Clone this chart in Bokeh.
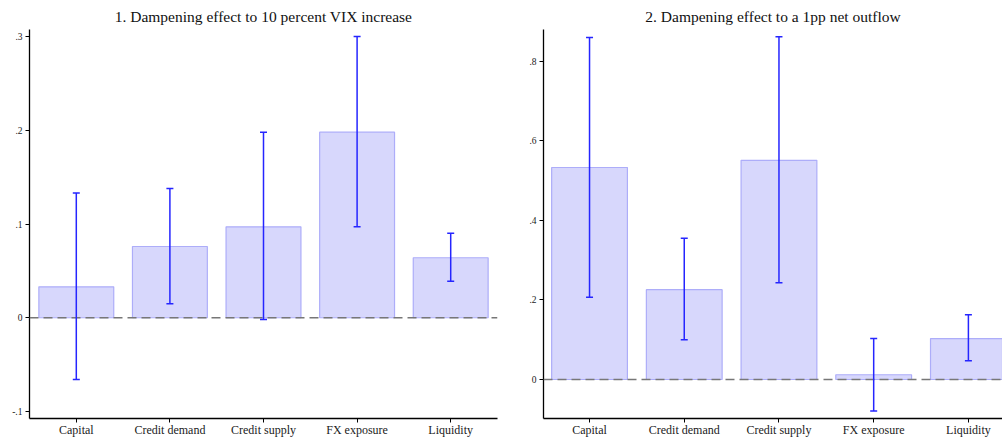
from bokeh.plotting import figure
from bokeh.models import ColumnDataSource, Range1d, FixedTicker, Span, Whisker, TeeHead
from bokeh.layouts import row
from bokeh.embed import file_html
from bokeh.resources import INLINE

categories = ["Capital", "Credit demand", "Credit supply", "FX exposure", "Liquidity"]

# Panel 1: dampening effect to 10 percent VIX increase
vix_est = [0.033, 0.076, 0.097, 0.198, 0.064]
vix_lo = [-0.066, 0.015, -0.002, 0.097, 0.039]
vix_hi = [0.133, 0.138, 0.198, 0.300, 0.090]
vix_ticks = [-0.1, 0.0, 0.1, 0.2, 0.3]
vix_tick_labels = ["-.1", "0", ".1", ".2", ".3"]

# Panel 2: dampening effect to a 1pp net outflow
out_est = [0.533, 0.226, 0.551, 0.012, 0.103]
out_lo = [0.207, 0.100, 0.243, -0.079, 0.047]
out_hi = [0.860, 0.355, 0.862, 0.103, 0.163]
out_ticks = [0.0, 0.2, 0.4, 0.6, 0.8]
out_tick_labels = ["0", ".2", ".4", ".6", ".8"]

titles = ["1. Dampening effect to 10 percent VIX increase",
          "2. Dampening effect to a 1pp net outflow"]

FONT = "Liberation Serif"
BAR_FILL = "#d7d7fc"
BAR_LINE = "#adadf9"
ERR = "#2525ff"


def make_panel(title, est, lo, hi, ticks, tick_labels, width, xr, yr,
               border_left, border_right, title_offset):
    xs = list(range(len(categories)))
    src = ColumnDataSource(dict(x=xs, est=est, lo=lo, hi=hi))
    p = figure(width=width, height=439, x_range=Range1d(*xr), y_range=Range1d(*yr),
               output_backend="svg", toolbar_location=None, title=title,
               min_border_left=border_left, min_border_right=border_right,
               min_border_top=0, min_border_bottom=0)
    p.title.text_font = FONT
    p.title.text_font_size = "15.5px"
    p.title.text_font_style = "normal"
    p.title.text_color = "#111111"
    p.title.align = "center"
    p.title.offset = title_offset
    p.outline_line_color = None
    p.xgrid.visible = False
    p.ygrid.visible = False
    p.background_fill_color = "white"
    p.border_fill_color = "white"

    p.vbar(x="x", top="est", bottom=0, width=0.8, source=src,
           fill_color=BAR_FILL, line_color=BAR_LINE, line_width=1.2)

    p.add_layout(Span(location=0, dimension="width", line_color="#777777",
                      line_dash="9 5", line_width=1.5, level="annotation"))

    w = Whisker(base="x", upper="hi", lower="lo", source=src,
                line_color=ERR, line_width=1.5, level="overlay",
                upper_head=TeeHead(size=7, line_color=ERR, line_width=1.5),
                lower_head=TeeHead(size=7, line_color=ERR, line_width=1.5))
    p.add_layout(w)

    p.xaxis.ticker = FixedTicker(ticks=xs)
    p.xaxis.major_label_overrides = {i: c for i, c in enumerate(categories)}
    p.xaxis.minor_tick_line_color = None
    p.xaxis.major_tick_in = 0
    p.xaxis.major_tick_out = 4
    p.xaxis.major_label_standoff = 0
    p.xaxis.major_label_text_font = FONT
    p.xaxis.major_label_text_font_size = "12px"
    p.xaxis.major_label_text_color = "#1a1a1a"
    p.xaxis.axis_line_color = "black"
    p.xaxis.axis_line_width = 1.3

    p.yaxis.ticker = FixedTicker(ticks=ticks)
    p.yaxis.major_label_overrides = {t: l for t, l in zip(ticks, tick_labels)}
    p.yaxis.minor_tick_line_color = None
    p.yaxis.major_tick_in = 0
    p.yaxis.major_tick_out = 4
    p.yaxis.major_label_standoff = 3
    p.yaxis.major_label_orientation = "horizontal"
    p.yaxis.major_label_text_font = FONT
    p.yaxis.major_label_text_font_size = "9.5px"
    p.yaxis.major_label_text_color = "#1a1a1a"
    p.yaxis.axis_line_color = "black"
    p.yaxis.axis_line_width = 1.3
    return p


p1 = make_panel(titles[0], vix_est, vix_lo, vix_hi, vix_ticks, vix_tick_labels,
                520, (-0.5, 4.5), (-0.1075, 0.3075), 29, 23, 0)
p2 = make_panel(titles[1], out_est, out_lo, out_hi, out_ticks, out_tick_labels,
                482, (-0.486, 4.36), (-0.098, 0.88), 23, 0, 5)

layout = row(p1, p2)
open("out.html", "w").write(file_html(layout, INLINE))
